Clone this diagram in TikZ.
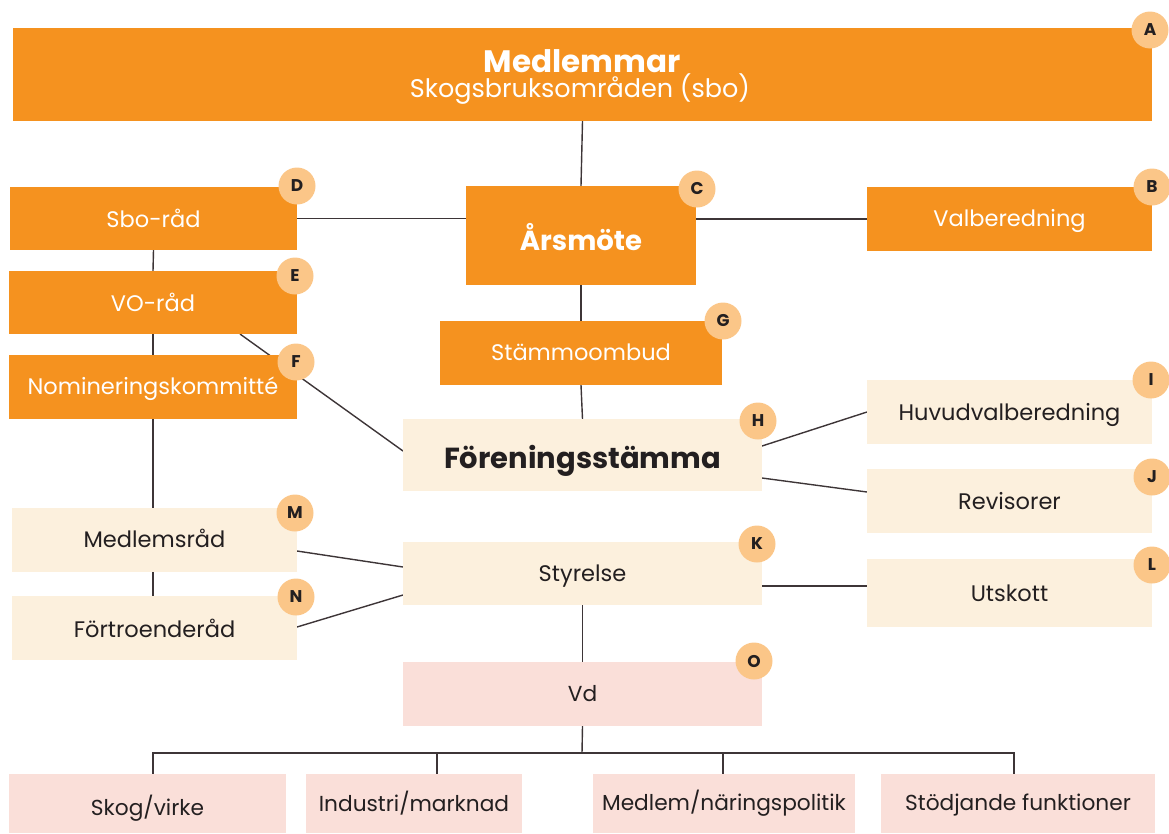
\documentclass[tikz,border=0pt]{standalone}
\usepackage{fontspec}
\setmainfont{Poppins}
\usetikzlibrary{backgrounds}
\definecolor{orng}{HTML}{F5921F}
\definecolor{beige}{HTML}{FCF0DD}
\definecolor{pinkbg}{HTML}{FADFD9}
\definecolor{badgec}{HTML}{FBC688}
\definecolor{linec}{HTML}{3D3537}
\definecolor{txtd}{HTML}{231F20}
\newcommand{\shiftv}[2]{\raisebox{#1}[\height][\depth]{#2}}
\tikzset{
  box/.style={rectangle, inner sep=0pt, outer sep=0pt, align=center},
  obox/.style={box, fill=orng, text=white, font=\fontsize{22.5}{26}\selectfont},
  bbox/.style={box, fill=beige, text=txtd, font=\fontsize{22.5}{26}\selectfont},
  pbox/.style={box, fill=pinkbg, text=txtd, font=\fontsize{21.7}{25}\selectfont},
  badge/.style={circle, fill=badgec, text=txtd, minimum size=37pt, inner sep=0pt, font=\fontsize{17}{20}\selectfont\bfseries},
  conn/.style={draw=linec, line width=1.4pt},
}
\begin{document}
\begin{tikzpicture}[x=1pt,y=-1pt]
\useasboundingbox (0,0) rectangle (1169,833);
% boxes
\node[obox, minimum width=1139pt, minimum height=93pt] (A) at (582.5,74.5) {};
\node[text=white, font=\fontsize{31}{34}\selectfont\bfseries, inner sep=0pt] (At1) at (582,61) {Medlemmar};
\node[text=white, font=\fontsize{25.5}{29}\selectfont, inner sep=0pt] (At2) at (580,89) {Skogsbruksområden (sbo)};
\node[obox, minimum width=287pt, minimum height=63pt] (D) at (153.5,218.5) {Sbo-råd};
\node[obox, minimum width=230pt, minimum height=99pt, font=\fontsize{27.5}{31}\selectfont\bfseries] (C) at (581,235.5) {\shiftv{-2pt}{Årsmöte}};
\node[obox, minimum width=285pt, minimum height=64pt] (B) at (1009.5,219) {\shiftv{-2pt}{Valberedning}};
\node[obox, minimum width=288pt, minimum height=63pt] (E) at (153,302.5) {VO-råd};
\node[obox, minimum width=282pt, minimum height=64pt] (G) at (581,353) {\shiftv{1pt}{Stämmoombud}};
\node[obox, minimum width=288pt, minimum height=64pt] (F) at (153,387) {\shiftv{-2pt}{Nomineringskommitté}};
\node[bbox, minimum width=359pt, minimum height=72pt, font=\fontsize{29}{33}\selectfont\bfseries] (H) at (582.5,455) {\shiftv{-6pt}{Föreningsstämma}};
\node[bbox, minimum width=285pt, minimum height=64pt] (I) at (1009.5,412) {\shiftv{-3pt}{Huvudvalberedning}};
\node[bbox, minimum width=285pt, minimum height=64pt] (J) at (1009.5,501) {Revisorer};
\node[bbox, minimum width=285pt, minimum height=64pt] (M) at (154.5,540) {\shiftv{2pt}{Medlemsråd}};
\node[bbox, minimum width=359pt, minimum height=63pt] (K) at (582.5,573.5) {\shiftv{-3pt}{Styrelse}};
\node[bbox, minimum width=285pt, minimum height=68pt] (L) at (1009.5,593) {Utskott};
\node[bbox, minimum width=285pt, minimum height=64pt] (N) at (154.5,628) {Förtroenderåd};
\node[pbox, minimum width=359pt, minimum height=64pt] (O) at (582.5,694) {Vd};
\node[pbox, minimum width=277pt, minimum height=59pt] (S1) at (147.5,803.5) {\shiftv{-5pt}{Skog/virke}};
\node[pbox, minimum width=216pt, minimum height=59pt] (S2) at (414,803.5) {Industri/marknad};
\node[pbox, minimum width=262pt, minimum height=59pt] (S3) at (724,803.5) {Medlem/näringspolitik};
\node[pbox, minimum width=274pt, minimum height=59pt] (S4) at (1018,803.5) {\shiftv{-2pt}{Stödjande funktioner}};
% badges
\node[badge] (bA) at (1150,30) {A};
\node[badge] (bB) at (1152,187) {B};
\node[badge] (bC) at (697,189) {C};
\node[badge] (bD) at (297,186) {D};
\node[badge] (bE) at (295,276) {E};
\node[badge] (bF) at (296,362) {F};
\node[badge] (bG) at (723,321) {G};
\node[badge] (bH) at (758,421) {H};
\node[badge] (bI) at (1151,380) {I};
\node[badge] (bJ) at (1152,477) {J};
\node[badge] (bK) at (757,544) {K};
\node[badge] (bL) at (1152,565) {L};
\node[badge] (bM) at (295,513) {M};
\node[badge] (bN) at (296,597) {N};
\node[badge] (bO) at (754,661) {O};
% connectors
\coordinate (bus) at (582,753);
\begin{scope}[on background layer]
\draw[conn] (A.south) -- (C.north);
\draw[conn] (D.east) -- (C.west |- D.east);
\draw[conn] (C.east |- B.west) -- (B.west);
\draw[conn] (C.south) -- (G.north);
\draw[conn] (G.south) -- (H.north);
\draw[conn] (D.south) -- (E.north);
\draw[conn] (E.south) -- (F.north);
\draw[conn] (F.south) -- (153,508);
\draw[conn] (153,572) -- (153,596);
\draw[conn] (240,334) -- (403,451);
\draw[conn] (762,446) -- (867,412);
\draw[conn] (762,478) -- (867,492);
\draw[conn] (297,551) -- (403,567);
\draw[conn] (297,627) -- (403,595);
\draw[conn] (762,586) -- (867,586);
\draw[conn] (K.south) -- (O.north);
\draw[conn] (O.south) -- (bus);
\draw[conn] (153,774) -- (153,753) -- (1014,753) -- (1014,774);
\draw[conn] (437,753) -- (437,774);
\draw[conn] (723,753) -- (723,774);
\end{scope}
\end{tikzpicture}
\end{document}
